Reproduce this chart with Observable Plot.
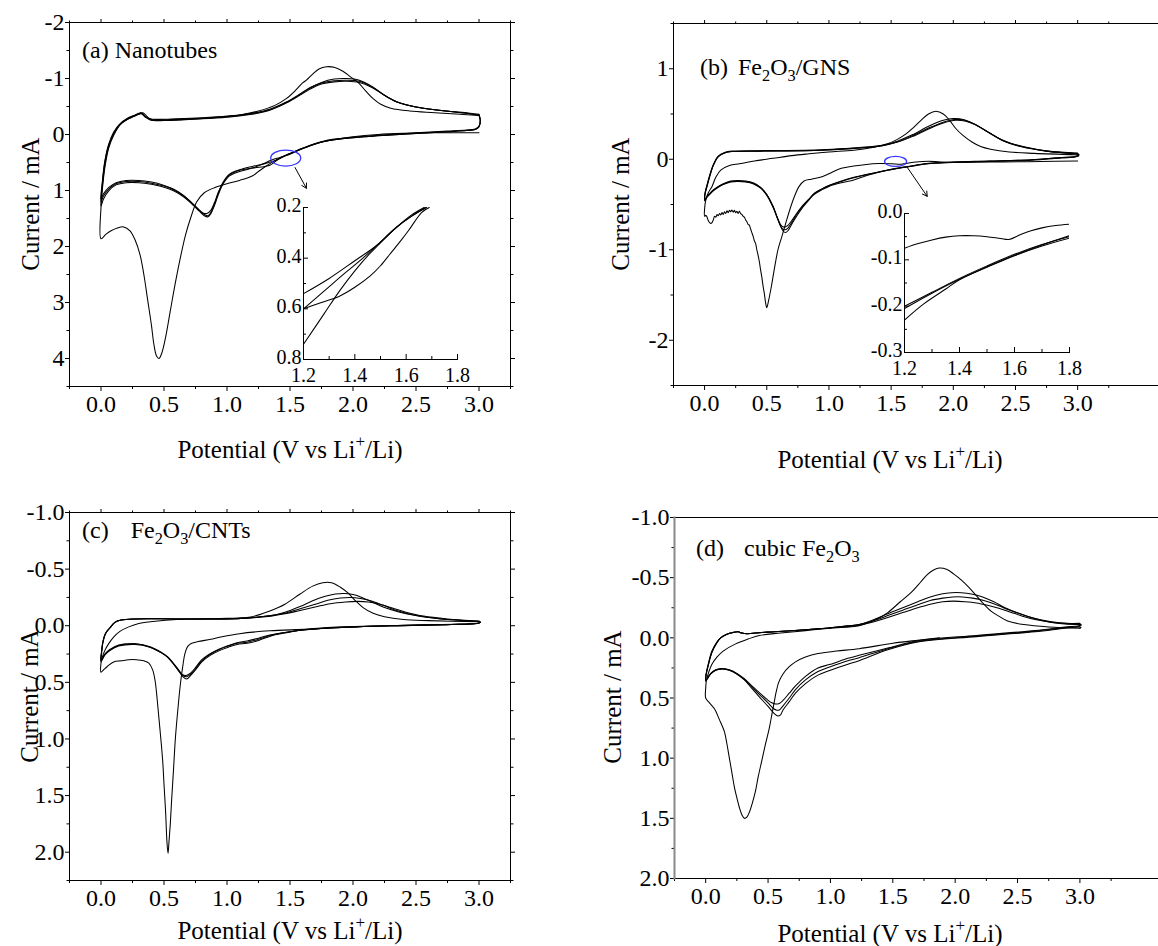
<!DOCTYPE html>
<html><head><meta charset="utf-8">
<script src="https://cdn.jsdelivr.net/npm/d3@7"></script>
<script src="https://cdn.jsdelivr.net/npm/@observablehq/plot@0.6"></script>
<style>
body{margin:0;background:#fff;}
#fig{position:relative;width:1158px;height:946px;overflow:hidden;background:#fff;font-family:"Liberation Serif","Times New Roman",serif;color:#000;}
#fig svg text{font-family:"Liberation Serif","Times New Roman",serif !important;fill:#000;}
#fig svg.mainp text{font-size:24px;}
#fig svg.insetp text{font-size:20px;}
.t{position:absolute;white-space:nowrap;line-height:1;}
.cc{transform:translate(-50%,-50%);}
.rot{transform:translate(-50%,-50%) rotate(-90deg);}
.lv{transform:translate(0,-50%);}
sub{font-size:68%;vertical-align:-0.38em;line-height:0;}
sup{font-size:68%;vertical-align:0.6em;line-height:0;}
</style></head><body><div id="fig"></div>
<script>
// ================= DATA (V vs Li+/Li, current mA) =================
// Panel (a) Nanotubes
const aCycle1 = [[3.00,-0.03],[2.80,-0.03],[2.60,-0.03],[2.40,-0.02],[2.20,0.00],[2.00,0.04],[1.85,0.09],[1.72,0.15],[1.62,0.23],[1.55,0.29],[1.49,0.35],[1.43,0.41],[1.37,0.48],[1.30,0.58],[1.25,0.66],[1.20,0.74],[1.10,0.82],[1.00,0.88],[0.90,0.95],[0.82,1.04],[0.76,1.20],[0.71,1.50],[0.67,1.80],[0.63,2.20],[0.59,2.65],[0.55,3.15],[0.51,3.65],[0.48,3.92],[0.46,4.00],[0.44,3.95],[0.42,3.75],[0.40,3.40],[0.37,2.95],[0.34,2.50],[0.31,2.15],[0.27,1.88],[0.23,1.72],[0.18,1.65],[0.13,1.67],[0.08,1.72],[0.04,1.78],[0.00,1.86],
 [0.00,1.30],[0.01,1.00],[0.03,0.60],[0.06,0.25],[0.10,0.02],[0.15,-0.17],[0.21,-0.28],[0.27,-0.34],[0.31,-0.37],[0.33,-0.39],[0.35,-0.36],[0.38,-0.29],[0.42,-0.25],[0.50,-0.25],[0.70,-0.27],[0.90,-0.30],[1.10,-0.35],[1.25,-0.42],[1.38,-0.52],[1.47,-0.64],[1.54,-0.78],[1.60,-0.92],[1.63,-0.97],[1.68,-1.08],[1.73,-1.17],[1.79,-1.21],[1.85,-1.20],[1.92,-1.13],[1.98,-1.03],[2.04,-0.93],[2.10,-0.78],[2.16,-0.64],[2.22,-0.54],[2.30,-0.47],[2.45,-0.42],[2.65,-0.39],[2.85,-0.36],[3.00,-0.34]];
const aCycle2 = [[3.00,-0.34],[3.01,-0.25],[3.00,-0.14],[2.97,-0.09],[2.90,-0.07],[2.75,-0.05],[2.50,-0.02],[2.30,0.01],[2.10,0.04],[1.90,0.08],[1.78,0.12],[1.66,0.20],[1.57,0.28],[1.49,0.35],[1.40,0.45],[1.30,0.52],[1.20,0.57],[1.10,0.63],[1.02,0.71],[0.97,0.85],[0.93,1.05],[0.90,1.25],[0.87,1.40],[0.85,1.45],[0.82,1.43],[0.78,1.35],[0.73,1.24],[0.66,1.10],[0.58,0.99],[0.50,0.92],[0.40,0.87],[0.30,0.84],[0.20,0.84],[0.12,0.88],[0.06,0.98],[0.02,1.10],[0.00,1.20],
 [0.01,0.90],[0.03,0.50],[0.06,0.20],[0.10,-0.02],[0.15,-0.18],[0.21,-0.27],[0.26,-0.33],[0.30,-0.37],[0.32,-0.38],[0.35,-0.32],[0.39,-0.27],[0.45,-0.26],[0.60,-0.27],[0.80,-0.29],[1.00,-0.32],[1.20,-0.37],[1.35,-0.45],[1.47,-0.57],[1.57,-0.70],[1.66,-0.83],[1.75,-0.93],[1.85,-0.99],[1.95,-1.00],[2.05,-0.97],[2.15,-0.86],[2.25,-0.70],[2.35,-0.58],[2.50,-0.49],[2.70,-0.43],[2.90,-0.39],[3.00,-0.36]];
const aCycle3 = [[3.00,-0.36],[3.01,-0.26],[3.00,-0.15],[2.97,-0.10],[2.90,-0.08],[2.75,-0.06],[2.50,-0.03],[2.30,0.00],[2.10,0.03],[1.90,0.07],[1.78,0.11],[1.66,0.19],[1.57,0.27],[1.49,0.35],[1.42,0.42],[1.34,0.55],[1.27,0.58],[1.20,0.60],[1.10,0.64],[1.02,0.72],[0.97,0.86],[0.93,1.04],[0.90,1.22],[0.87,1.36],[0.84,1.41],[0.81,1.40],[0.77,1.33],[0.72,1.22],[0.65,1.08],[0.57,0.97],[0.49,0.90],[0.40,0.85],[0.30,0.82],[0.20,0.82],[0.12,0.86],[0.06,0.95],[0.02,1.06],[0.00,1.15],
 [0.01,0.85],[0.03,0.48],[0.06,0.18],[0.10,-0.04],[0.15,-0.19],[0.21,-0.29],[0.26,-0.34],[0.30,-0.38],[0.32,-0.39],[0.35,-0.33],[0.39,-0.28],[0.45,-0.27],[0.60,-0.28],[0.80,-0.30],[1.00,-0.33],[1.20,-0.38],[1.35,-0.46],[1.47,-0.58],[1.57,-0.71],[1.66,-0.84],[1.75,-0.92],[1.85,-0.96],[1.95,-0.97],[2.05,-0.95],[2.15,-0.85],[2.25,-0.70],[2.35,-0.58],[2.50,-0.49],[2.70,-0.43],[2.90,-0.38],[3.00,-0.35]];
const aCycle4 = [[3.00,-0.35],[3.01,-0.25],[3.00,-0.14],[2.97,-0.09],[2.90,-0.07],[2.75,-0.05],[2.50,-0.02],[2.30,0.01],[2.10,0.04],[1.90,0.08],[1.78,0.12],[1.66,0.20],[1.57,0.28],[1.49,0.36],[1.42,0.41],[1.35,0.46],[1.28,0.53],[1.20,0.60],[1.10,0.66],[1.02,0.74],[0.97,0.88],[0.93,1.08],[0.90,1.27],[0.87,1.42],[0.85,1.47],[0.82,1.45],[0.78,1.37],[0.73,1.26],[0.66,1.12],[0.58,1.01],[0.50,0.94],[0.40,0.89],[0.30,0.86],[0.20,0.86],[0.12,0.90],[0.06,1.01],[0.02,1.15],[0.00,1.28],
 [0.01,0.95],[0.03,0.55],[0.06,0.22],[0.10,0.00],[0.15,-0.17],[0.21,-0.27],[0.26,-0.32],[0.30,-0.36],[0.32,-0.37],[0.35,-0.31],[0.39,-0.26],[0.45,-0.25],[0.60,-0.26],[0.80,-0.28],[1.00,-0.31],[1.20,-0.36],[1.35,-0.44],[1.47,-0.56],[1.57,-0.69],[1.66,-0.81],[1.75,-0.90],[1.85,-0.94],[1.95,-0.95],[2.05,-0.93],[2.15,-0.84],[2.25,-0.70],[2.35,-0.58],[2.50,-0.49],[2.70,-0.43],[2.90,-0.38],[3.00,-0.34]];
// inset (a): 1.2–1.8 V
const aInset1 = [[1.20,0.54],[1.30,0.48],[1.40,0.41],[1.485,0.35],[1.56,0.28],[1.62,0.235],[1.675,0.20]];
const aInset2 = [[1.20,0.60],[1.28,0.53],[1.36,0.46],[1.42,0.41],[1.485,0.35],[1.56,0.28],[1.62,0.235],[1.68,0.20]];
const aInset3 = [[1.20,0.60],[1.27,0.575],[1.34,0.55],[1.40,0.515],[1.46,0.47],[1.50,0.43],[1.54,0.38],[1.58,0.33],[1.61,0.29],[1.66,0.22],[1.69,0.20]];
const aInset4 = [[1.20,0.74],[1.28,0.62],[1.34,0.53],[1.40,0.45],[1.46,0.38],[1.49,0.35],[1.56,0.28],[1.62,0.23],[1.67,0.20]];
const aMarker = [1.47, 0.43];
const aArrow = [[1.54, 0.59], [1.63, 0.96]];

// Panel (b) Fe2O3/GNS
const bCycle1 = [[3.00,-0.02],[2.70,-0.025],[2.40,-0.03],[2.10,-0.033],[1.90,-0.03],[1.80,-0.023],[1.70,-0.031],[1.62,-0.046],[1.58,-0.056],[1.50,-0.05],[1.40,-0.048],[1.30,-0.057],[1.20,-0.075],[1.10,-0.10],[1.00,-0.16],[0.93,-0.20],[0.86,-0.22],[0.80,-0.24],[0.76,-0.30],[0.72,-0.42],[0.68,-0.58],[0.65,-0.72],[0.62,-0.86],[0.59,-1.00],[0.56,-1.22],[0.535,-1.42],[0.515,-1.56],[0.50,-1.64],[0.49,-1.58],[0.48,-1.48],[0.47,-1.40],[0.46,-1.30],[0.45,-1.22],[0.44,-1.13],[0.43,-1.06],[0.42,-1.00],[0.41,-0.93],[0.40,-0.90],[0.39,-0.85],[0.38,-0.81],[0.37,-0.77],[0.36,-0.73],[0.35,-0.72],[0.34,-0.69],[0.33,-0.67],[0.32,-0.64],[0.31,-0.63],[0.30,-0.61],[0.29,-0.60],[0.28,-0.575],[0.27,-0.60],[0.26,-0.575],[0.25,-0.59],[0.24,-0.565],[0.23,-0.585],[0.22,-0.56],[0.21,-0.58],[0.20,-0.565],[0.19,-0.59],[0.18,-0.57],[0.17,-0.60],[0.16,-0.58],[0.15,-0.61],[0.14,-0.59],[0.13,-0.615],[0.12,-0.60],[0.11,-0.625],[0.10,-0.61],[0.09,-0.64],[0.08,-0.63],[0.07,-0.67],[0.06,-0.70],[0.05,-0.71],[0.04,-0.70],[0.03,-0.68],[0.02,-0.64],[0.01,-0.62],[0.00,-0.63],
 [0.00,-0.55],[0.01,-0.45],[0.03,-0.37],[0.06,-0.30],[0.09,-0.20],[0.13,-0.12],[0.20,-0.07],[0.28,-0.05],[0.40,-0.02],[0.55,0.01],[0.70,0.04],[0.84,0.06],[1.00,0.08],[1.20,0.10],[1.35,0.13],[1.47,0.17],[1.55,0.22],[1.62,0.28],[1.68,0.35],[1.74,0.43],[1.80,0.50],[1.86,0.53],[1.92,0.50],[1.97,0.43],[2.02,0.34],[2.08,0.26],[2.15,0.19],[2.22,0.14],[2.30,0.11],[2.45,0.08],[2.65,0.065],[3.00,0.05]];
const bCycle2 = [[3.00,0.05],[3.01,0.04],[2.98,0.025],[2.87,0.015],[2.63,-0.01],[2.30,-0.025],[2.00,-0.035],[1.80,-0.045],[1.70,-0.065],[1.60,-0.086],[1.50,-0.11],[1.40,-0.14],[1.30,-0.17],[1.20,-0.20],[1.10,-0.24],[1.00,-0.29],[0.94,-0.33],[0.88,-0.38],[0.84,-0.45],[0.79,-0.53],[0.74,-0.63],[0.70,-0.72],[0.67,-0.79],[0.65,-0.81],[0.63,-0.79],[0.60,-0.70],[0.55,-0.53],[0.50,-0.40],[0.45,-0.32],[0.39,-0.27],[0.33,-0.25],[0.27,-0.245],[0.21,-0.25],[0.15,-0.28],[0.11,-0.31],[0.07,-0.35],[0.04,-0.39],[0.02,-0.42],[0.00,-0.46],
 [0.005,-0.38],[0.02,-0.30],[0.04,-0.20],[0.07,-0.07],[0.11,0.03],[0.16,0.07],[0.22,0.085],[0.45,0.09],[0.94,0.10],[1.20,0.12],[1.43,0.15],[1.55,0.20],[1.67,0.27],[1.81,0.37],[1.92,0.43],[2.00,0.45],[2.08,0.44],[2.15,0.40],[2.27,0.31],[2.39,0.21],[2.54,0.14],[2.75,0.09],[3.00,0.06]];
const bCycle3 = [[3.00,0.06],[3.01,0.05],[2.98,0.03],[2.87,0.02],[2.63,-0.005],[2.30,-0.02],[2.00,-0.033],[1.80,-0.048],[1.70,-0.068],[1.60,-0.089],[1.50,-0.113],[1.40,-0.142],[1.30,-0.172],[1.20,-0.205],[1.10,-0.245],[1.00,-0.29],[0.94,-0.33],[0.88,-0.38],[0.84,-0.44],[0.79,-0.52],[0.74,-0.61],[0.70,-0.70],[0.67,-0.76],[0.645,-0.78],[0.62,-0.76],[0.59,-0.67],[0.55,-0.52],[0.50,-0.39],[0.45,-0.31],[0.39,-0.265],[0.33,-0.245],[0.27,-0.24],[0.21,-0.245],[0.15,-0.275],[0.11,-0.305],[0.07,-0.345],[0.04,-0.385],[0.02,-0.41],[0.00,-0.45],
 [0.005,-0.37],[0.02,-0.29],[0.04,-0.19],[0.07,-0.065],[0.11,0.03],[0.16,0.07],[0.22,0.085],[0.45,0.09],[0.94,0.10],[1.20,0.12],[1.43,0.15],[1.55,0.19],[1.67,0.26],[1.81,0.35],[1.92,0.41],[2.01,0.44],[2.09,0.43],[2.17,0.39],[2.28,0.30],[2.40,0.21],[2.55,0.14],[2.75,0.09],[3.00,0.06]];
const bCycle4 = [[3.00,0.06],[3.01,0.05],[2.98,0.03],[2.87,0.02],[2.63,-0.005],[2.30,-0.02],[2.00,-0.03],[1.80,-0.05],[1.70,-0.068],[1.60,-0.09],[1.50,-0.115],[1.40,-0.143],[1.35,-0.163],[1.27,-0.195],[1.20,-0.23],[1.10,-0.26],[1.00,-0.30],[0.94,-0.34],[0.88,-0.39],[0.84,-0.44],[0.79,-0.51],[0.74,-0.60],[0.70,-0.68],[0.67,-0.73],[0.64,-0.75],[0.615,-0.73],[0.59,-0.66],[0.55,-0.52],[0.50,-0.39],[0.45,-0.31],[0.39,-0.26],[0.33,-0.24],[0.27,-0.235],[0.21,-0.24],[0.15,-0.27],[0.11,-0.30],[0.07,-0.34],[0.04,-0.38],[0.02,-0.41],[0.00,-0.44],
 [0.005,-0.36],[0.02,-0.28],[0.04,-0.18],[0.07,-0.06],[0.11,0.035],[0.16,0.075],[0.22,0.09],[0.45,0.095],[0.94,0.105],[1.20,0.125],[1.43,0.155],[1.55,0.19],[1.67,0.25],[1.81,0.34],[1.92,0.40],[2.02,0.43],[2.10,0.42],[2.18,0.38],[2.29,0.29],[2.41,0.20],[2.56,0.14],[2.76,0.09],[3.00,0.07]];
// inset (b): 1.2–1.8 V
const bInset1 = [[1.20,-0.075],[1.25,-0.065],[1.30,-0.057],[1.35,-0.051],[1.40,-0.048],[1.45,-0.048],[1.50,-0.05],[1.55,-0.054],[1.58,-0.056],[1.62,-0.046],[1.66,-0.037],[1.70,-0.031],[1.75,-0.026],[1.80,-0.023]];
const bInset2 = [[1.20,-0.20],[1.30,-0.17],[1.40,-0.14],[1.50,-0.113],[1.60,-0.088],[1.70,-0.067],[1.80,-0.05]];
const bInset3 = [[1.20,-0.205],[1.30,-0.172],[1.40,-0.142],[1.50,-0.116],[1.60,-0.091],[1.70,-0.07],[1.80,-0.053]];
const bInset4 = [[1.20,-0.23],[1.27,-0.195],[1.35,-0.163],[1.40,-0.143],[1.50,-0.115],[1.60,-0.09],[1.70,-0.068],[1.80,-0.048]];
const bMarker = [1.54, -0.03];
const bArrow = [[1.63, -0.09], [1.79, -0.41]];

// Panel (c) Fe2O3/CNTs
const cCycle1 = [[3.00,-0.02],[2.70,-0.01],[2.30,0.00],[1.90,0.01],[1.64,0.03],[1.34,0.045],[1.10,0.07],[0.95,0.10],[0.87,0.12],[0.77,0.14],[0.72,0.155],[0.69,0.18],[0.665,0.25],[0.65,0.35],[0.635,0.47],[0.62,0.62],[0.605,0.80],[0.59,1.00],[0.575,1.28],[0.56,1.55],[0.55,1.75],[0.54,1.90],[0.532,2.01],[0.523,1.90],[0.513,1.65],[0.50,1.40],[0.49,1.20],[0.475,1.00],[0.46,0.82],[0.445,0.64],[0.43,0.49],[0.41,0.39],[0.38,0.33],[0.34,0.31],[0.28,0.30],[0.22,0.30],[0.16,0.31],[0.10,0.32],[0.05,0.36],[0.02,0.39],[0.00,0.41],
 [0.00,0.33],[0.01,0.28],[0.03,0.22],[0.06,0.16],[0.10,0.10],[0.15,0.05],[0.22,0.01],[0.30,-0.02],[0.43,-0.04],[0.60,-0.055],[0.80,-0.06],[1.00,-0.065],[1.20,-0.08],[1.34,-0.13],[1.46,-0.19],[1.58,-0.28],[1.68,-0.35],[1.76,-0.38],[1.83,-0.38],[1.90,-0.34],[1.96,-0.29],[2.02,-0.22],[2.08,-0.16],[2.16,-0.11],[2.25,-0.08],[2.40,-0.055],[2.60,-0.045],[3.00,-0.035]];
const cCycle2 = [[3.00,-0.04],[3.01,-0.03],[2.98,-0.02],[2.78,-0.01],[2.30,0.00],[1.82,0.02],[1.58,0.04],[1.46,0.065],[1.35,0.09],[1.25,0.13],[1.16,0.155],[1.08,0.165],[1.01,0.19],[0.94,0.22],[0.87,0.26],[0.80,0.32],[0.75,0.39],[0.71,0.44],[0.68,0.47],[0.65,0.45],[0.61,0.39],[0.57,0.33],[0.53,0.28],[0.48,0.24],[0.39,0.19],[0.27,0.165],[0.14,0.18],[0.07,0.22],[0.03,0.26],[0.00,0.32],
 [0.005,0.24],[0.015,0.15],[0.035,0.07],[0.07,0.02],[0.11,-0.03],[0.16,-0.05],[0.27,-0.06],[0.63,-0.06],[1.11,-0.065],[1.35,-0.09],[1.46,-0.12],[1.58,-0.17],[1.68,-0.22],[1.78,-0.26],[1.86,-0.28],[1.93,-0.285],[2.00,-0.275],[2.07,-0.25],[2.15,-0.21],[2.25,-0.16],[2.37,-0.12],[2.50,-0.09],[2.70,-0.06],[3.00,-0.04]];
const cCycle3 = [[3.00,-0.04],[3.01,-0.03],[2.98,-0.02],[2.78,-0.01],[2.30,0.00],[1.82,0.02],[1.58,0.04],[1.46,0.06],[1.35,0.085],[1.25,0.12],[1.16,0.145],[1.08,0.155],[1.01,0.18],[0.94,0.21],[0.87,0.25],[0.80,0.31],[0.75,0.38],[0.71,0.43],[0.68,0.45],[0.65,0.44],[0.61,0.385],[0.57,0.33],[0.53,0.28],[0.48,0.24],[0.39,0.19],[0.27,0.16],[0.14,0.175],[0.07,0.215],[0.03,0.255],[0.00,0.31],
 [0.005,0.23],[0.015,0.145],[0.035,0.07],[0.07,0.02],[0.11,-0.03],[0.16,-0.05],[0.27,-0.06],[0.63,-0.06],[1.11,-0.065],[1.35,-0.09],[1.46,-0.11],[1.58,-0.15],[1.70,-0.19],[1.80,-0.225],[1.90,-0.245],[1.98,-0.25],[2.06,-0.24],[2.14,-0.22],[2.24,-0.18],[2.36,-0.13],[2.50,-0.09],[2.70,-0.06],[3.00,-0.04]];
const cCycle4 = [[3.00,-0.04],[3.01,-0.03],[2.98,-0.02],[2.78,-0.01],[2.30,0.00],[1.82,0.02],[1.58,0.04],[1.46,0.06],[1.35,0.08],[1.25,0.11],[1.16,0.135],[1.08,0.15],[1.01,0.175],[0.94,0.205],[0.87,0.245],[0.80,0.30],[0.75,0.37],[0.71,0.42],[0.675,0.44],[0.645,0.43],[0.61,0.38],[0.57,0.325],[0.53,0.275],[0.48,0.235],[0.39,0.185],[0.27,0.16],[0.14,0.17],[0.07,0.21],[0.03,0.25],[0.00,0.30],
 [0.005,0.22],[0.015,0.14],[0.035,0.07],[0.07,0.02],[0.11,-0.03],[0.16,-0.05],[0.27,-0.06],[0.63,-0.06],[1.11,-0.065],[1.35,-0.085],[1.46,-0.105],[1.58,-0.135],[1.70,-0.165],[1.82,-0.195],[1.94,-0.21],[2.04,-0.215],[2.12,-0.21],[2.20,-0.195],[2.30,-0.16],[2.42,-0.12],[2.56,-0.085],[2.75,-0.06],[3.00,-0.04]];

// Panel (d) cubic Fe2O3
const dCycle1 = [[1.875,0.00],[1.70,0.02],[1.50,0.045],[1.23,0.09],[1.05,0.11],[0.90,0.13],[0.80,0.16],[0.72,0.20],[0.67,0.24],[0.62,0.30],[0.585,0.37],[0.565,0.45],[0.55,0.53],[0.53,0.64],[0.51,0.75],[0.48,0.88],[0.45,1.02],[0.42,1.16],[0.40,1.27],[0.375,1.37],[0.35,1.45],[0.33,1.49],[0.31,1.50],[0.29,1.47],[0.27,1.41],[0.25,1.33],[0.23,1.24],[0.21,1.12],[0.19,1.00],[0.17,0.88],[0.15,0.78],[0.11,0.68],[0.07,0.59],[0.03,0.54],[0.00,0.50],
 [0.00,0.42],[0.005,0.36],[0.02,0.30],[0.05,0.22],[0.09,0.16],[0.14,0.11],[0.24,0.05],[0.34,0.01],[0.43,-0.02],[0.60,-0.04],[0.80,-0.06],[1.00,-0.08],[1.23,-0.10],[1.36,-0.15],[1.46,-0.21],[1.56,-0.30],[1.65,-0.38],[1.72,-0.46],[1.77,-0.52],[1.82,-0.56],[1.87,-0.58],[1.93,-0.57],[1.99,-0.53],[2.05,-0.48],[2.11,-0.42],[2.17,-0.35],[2.23,-0.28],[2.29,-0.22],[2.35,-0.18],[2.42,-0.14],[2.55,-0.11],[2.75,-0.09],[3.00,-0.08]];
const dCycle2 = [[3.00,-0.08],[3.01,-0.085],[2.99,-0.09],[2.88,-0.08],[2.64,-0.05],[2.17,-0.01],[1.70,0.035],[1.46,0.10],[1.23,0.19],[1.14,0.22],[1.00,0.27],[0.90,0.31],[0.80,0.38],[0.72,0.46],[0.67,0.53],[0.62,0.60],[0.60,0.64],[0.58,0.65],[0.55,0.63],[0.50,0.57],[0.43,0.49],[0.37,0.42],[0.31,0.35],[0.25,0.30],[0.19,0.27],[0.12,0.26],[0.08,0.27],[0.04,0.30],[0.00,0.36],
 [0.005,0.30],[0.02,0.23],[0.05,0.12],[0.09,0.04],[0.12,0.00],[0.17,-0.03],[0.22,-0.045],[0.26,-0.05],[0.29,-0.04],[0.33,-0.035],[0.45,-0.045],[0.55,-0.05],[0.90,-0.075],[1.14,-0.10],[1.23,-0.11],[1.37,-0.16],[1.46,-0.20],[1.58,-0.25],[1.70,-0.30],[1.80,-0.34],[1.89,-0.365],[1.97,-0.375],[2.05,-0.375],[2.13,-0.365],[2.22,-0.34],[2.31,-0.30],[2.40,-0.25],[2.52,-0.20],[2.64,-0.16],[2.76,-0.13],[2.88,-0.115],[3.00,-0.11]];
const dCycle3 = [[3.00,-0.11],[3.01,-0.105],[2.99,-0.095],[2.88,-0.085],[2.64,-0.055],[2.17,-0.015],[1.70,0.03],[1.46,0.09],[1.23,0.165],[1.14,0.19],[1.00,0.24],[0.90,0.28],[0.80,0.35],[0.72,0.43],[0.67,0.50],[0.62,0.565],[0.59,0.60],[0.565,0.60],[0.54,0.585],[0.50,0.54],[0.43,0.47],[0.37,0.41],[0.31,0.345],[0.25,0.30],[0.19,0.27],[0.12,0.26],[0.08,0.27],[0.04,0.30],[0.00,0.355],
 [0.005,0.30],[0.02,0.23],[0.05,0.12],[0.09,0.04],[0.12,0.00],[0.17,-0.03],[0.22,-0.045],[0.26,-0.05],[0.29,-0.04],[0.33,-0.035],[0.45,-0.045],[0.55,-0.05],[0.90,-0.075],[1.14,-0.10],[1.23,-0.11],[1.37,-0.15],[1.46,-0.185],[1.58,-0.23],[1.70,-0.275],[1.80,-0.31],[1.90,-0.33],[1.98,-0.34],[2.06,-0.34],[2.14,-0.33],[2.23,-0.31],[2.32,-0.28],[2.41,-0.24],[2.52,-0.20],[2.64,-0.16],[2.76,-0.135],[2.88,-0.12],[3.00,-0.115]];
const dCycle4 = [[3.00,-0.115],[3.01,-0.11],[2.99,-0.10],[2.88,-0.09],[2.64,-0.06],[2.17,-0.02],[1.70,0.025],[1.46,0.085],[1.23,0.145],[1.14,0.17],[1.00,0.22],[0.90,0.25],[0.80,0.32],[0.72,0.40],[0.67,0.46],[0.62,0.52],[0.59,0.545],[0.56,0.55],[0.53,0.54],[0.49,0.51],[0.43,0.455],[0.37,0.40],[0.31,0.34],[0.25,0.295],[0.19,0.265],[0.12,0.255],[0.08,0.265],[0.04,0.295],[0.00,0.35],
 [0.005,0.29],[0.02,0.22],[0.05,0.11],[0.09,0.035],[0.12,0.00],[0.17,-0.03],[0.22,-0.045],[0.26,-0.05],[0.29,-0.04],[0.33,-0.035],[0.45,-0.045],[0.55,-0.05],[0.90,-0.075],[1.14,-0.095],[1.23,-0.105],[1.37,-0.14],[1.46,-0.17],[1.58,-0.21],[1.70,-0.25],[1.80,-0.28],[1.90,-0.30],[1.99,-0.305],[2.08,-0.30],[2.17,-0.29],[2.26,-0.27],[2.35,-0.245],[2.44,-0.215],[2.54,-0.18],[2.65,-0.15],[2.77,-0.13],[2.89,-0.12],[3.00,-0.12]];

// tick values
const xMajor = [0, 0.5, 1, 1.5, 2, 2.5, 3];
const xMinor = [-0.25, 0.25, 0.75, 1.25, 1.75, 2.25, 2.75, 3.25];
const aYMajor = [-2, -1, 0, 1, 2, 3, 4], aYMinor = [-1.5, -0.5, 0.5, 1.5, 2.5, 3.5, 4.5];
const bYMajor = [-2, -1, 0, 1], bYMinor = [-2.5, -1.5, -0.5, 0.5, 1.5];
const cdYMajor = [-1, -0.5, 0, 0.5, 1, 1.5, 2], cdYMinor = [-0.75, -0.25, 0.25, 0.75, 1.25, 1.75, 2.25];
const inXMajor = [1.2, 1.4, 1.6, 1.8], inXMinor = [1.3, 1.5, 1.7];
const aInYMajor = [0.2, 0.4, 0.6, 0.8], aInYMinor = [0.3, 0.5, 0.7];
const bInYMajor = [0, -0.1, -0.2, -0.3], bInYMinor = [-0.05, -0.15, -0.25];

// ================= RENDERING =================
const fig = document.getElementById("fig");
const FONT = '"Liberation Serif","Times New Roman",serif';
const blank = () => "";
const f1 = d => d.toFixed(1);
const f0 = d => String(d);

function rowsOf(series) {
  const rows = [];
  series.forEach((s, k) => s.forEach(([V, I]) => rows.push({V, I, cyc: k})));
  return rows;
}

function place(svg, left, top, cls) {
  svg.classList.add(cls);
  svg.style.position = "absolute";
  svg.style.left = left + "px";
  svg.style.top = top + "px";
  svg.style.maxWidth = "none";
  fig.appendChild(svg);
}

function mainPanel(cfg) {
  const ml = 70, mr = 14, mt = 14, mb = 44;
  const [x0, y0, x1, y1] = cfg.frame;
  const width = x1 - x0 + ml + mr, height = y1 - y0 + mt + mb;
  const open = cfg.openRight;
  const marks = [
    Plot.line(rowsOf(cfg.series), {x: "V", y: "I", z: "cyc", stroke: "#000", strokeWidth: 1.05, curve: "catmull-rom"}),
    Plot.axisX({anchor: "bottom", ticks: xMajor, tickSize: 5, tickPadding: 3, tickFormat: f1, fontSize: 24, fontFamily: FONT, label: null}),
    Plot.axisX({anchor: "bottom", ticks: xMinor, tickSize: 3, tickFormat: blank, label: null}),
    Plot.axisY({anchor: "left", ticks: cfg.yMajor, tickSize: 4, tickPadding: 1, tickFormat: cfg.yFmt, fontSize: 24, fontFamily: FONT, label: null}),
    Plot.axisY({anchor: "left", ticks: cfg.yMinor, tickSize: 2.5, tickFormat: blank, label: null})
  ];
  if (open) {
    marks.push(Plot.frame({anchor: "top", stroke: "#000"}), Plot.frame({anchor: "bottom", stroke: "#000"}), Plot.frame({anchor: "left", stroke: cfg.leftGray ? "#8a8a8a" : "#000", strokeWidth: cfg.leftGray ? 2 : 1}));
  } else {
    marks.push(Plot.frame({stroke: "#000", strokeWidth: 1}));
    marks.push(Plot.axisY({anchor: "right", ticks: cfg.yMajor, tickSize: 4, tickFormat: blank, label: null}));
    marks.push(Plot.axisY({anchor: "right", ticks: cfg.yMinor, tickSize: 2.5, tickFormat: blank, label: null}));
  }
  if (cfg.topTicks !== false) {
    marks.push(Plot.axisX({anchor: "top", ticks: xMajor, tickSize: 4, tickFormat: blank, label: null}));
    marks.push(Plot.axisX({anchor: "top", ticks: xMinor, tickSize: 2.5, tickFormat: blank, label: null}));
  }
  if (cfg.arrow) {
    const [[ax1, ay1], [ax2, ay2]] = cfg.arrow;
    marks.push(Plot.arrow([{ax1, ay1, ax2, ay2}], {x1: "ax1", y1: "ay1", x2: "ax2", y2: "ay2", stroke: "#000", strokeWidth: 1, headLength: 8}));
  }
  const svg = Plot.plot({
    width, height, marginLeft: ml, marginRight: mr, marginTop: mt, marginBottom: mb,
    style: {fontFamily: FONT, color: "#000", background: "transparent", overflow: "visible"},
    x: {domain: cfg.xDomain},
    y: {domain: cfg.yDomain, reverse: !!cfg.yReverse},
    marks
  });
  if (cfg.marker) {
    const sx = svg.scale("x"), sy = svg.scale("y");
    d3.select(svg).append("ellipse")
      .attr("cx", sx.apply(cfg.marker[0])).attr("cy", sy.apply(cfg.marker[1]))
      .attr("rx", cfg.markerR[0]).attr("ry", cfg.markerR[1])
      .attr("fill", "none").attr("stroke", "#3636ff").attr("stroke-width", 1.3);
  }
  place(svg, x0 - ml, y0 - mt, "mainp");
  return svg;
}

function insetPanel(cfg) {
  const ml = 52, mr = 8, mt = 12, mb = 34;
  const [x0, y0, x1, y1] = cfg.frame;
  const w = x1 - x0, h = y1 - y0;
  const svg = Plot.plot({
    width: w + ml + mr, height: h + mt + mb, marginLeft: ml, marginRight: mr, marginTop: mt, marginBottom: mb,
    style: {fontFamily: FONT, color: "#000", background: "transparent", overflow: "visible"},
    x: {domain: [1.2, 1.8]},
    y: {domain: cfg.yDomain, reverse: !!cfg.yReverse},
    marks: [
      Plot.line(rowsOf(cfg.series), {x: "V", y: "I", z: "cyc", stroke: "#000", strokeWidth: 1.05, curve: "catmull-rom", clip: true}),
      Plot.tickX(inXMajor, {x: d => d, insetTop: h - 5, stroke: "#000"}),
      Plot.tickX(inXMinor, {x: d => d, insetTop: h - 3, stroke: "#000"}),
      Plot.tickY(cfg.yMajor, {y: d => d, insetRight: w - 5, stroke: "#000"}),
      Plot.tickY(cfg.yMinor, {y: d => d, insetRight: w - 3, stroke: "#000"}),
      Plot.frame({anchor: "bottom", stroke: "#000"}),
      Plot.frame({anchor: "left", stroke: "#000"}),
      Plot.axisX({anchor: "bottom", ticks: inXMajor, tickSize: 0, tickPadding: 8, tickFormat: f1, fontSize: 20, fontFamily: FONT, label: null}),
      Plot.axisY({anchor: "left", ticks: cfg.yMajor, tickSize: 0, tickPadding: 2, tickFormat: f1, fontSize: 20, fontFamily: FONT, label: null, dy: -2})
    ]
  });
  place(svg, x0 - ml, y0 - mt, "insetp");
  return svg;
}

function text(html, x, y, fs, cls) {
  const d = document.createElement("div");
  d.className = "t " + cls;
  d.style.left = x + "px";
  d.style.top = y + "px";
  d.style.fontSize = fs + "px";
  d.innerHTML = html;
  fig.appendChild(d);
}

try {
  mainPanel({frame: [69, 22, 510, 386], xDomain: [-0.25, 3.25], yDomain: [-2, 4.5], yReverse: true, yMajor: aYMajor, yMinor: aYMinor, yFmt: f0,
    series: [aCycle1, aCycle2, aCycle3, aCycle4], marker: aMarker, markerR: [15, 8], arrow: aArrow});
  mainPanel({frame: [673, 23, 1158, 385], xDomain: [-0.25, 3.65], yDomain: [-2.5, 1.5], yMajor: bYMajor, yMinor: bYMinor, yFmt: f0, openRight: true,
    series: [bCycle1, bCycle2, bCycle3, bCycle4], marker: bMarker, markerR: [11, 5], arrow: bArrow});
  mainPanel({frame: [69, 512, 510, 880], xDomain: [-0.25, 3.25], yDomain: [-1, 2.25], yReverse: true, yMajor: cdYMajor, yMinor: cdYMinor, yFmt: f1,
    series: [cCycle1, cCycle2, cCycle3, cCycle4]});
  mainPanel({frame: [674, 517, 1158, 878], xDomain: [-0.25, 3.63], yDomain: [-1, 2], yReverse: true, yMajor: cdYMajor, yMinor: cdYMinor.filter(v => v < 2), yFmt: f1, openRight: true,
    series: [dCycle1, dCycle2, dCycle3, dCycle4], topTicks: false, leftGray: true});
  insetPanel({frame: [303, 207, 457, 359], yDomain: [0.2, 0.8], yReverse: true, yMajor: aInYMajor, yMinor: aInYMinor,
    series: [aInset1, aInset2, aInset3, aInset4]});
  insetPanel({frame: [904, 213, 1069, 352], yDomain: [-0.3, 0], yMajor: bInYMajor, yMinor: bInYMinor,
    series: [bInset1, bInset2, bInset3, bInset4]});

  const potential = 'Potential (V vs Li<sup>+</sup>/Li)';
  const current = 'Current / mA';
  text(current, 30, 204, 25, "rot");
  text(current, 620, 204, 25, "rot");
  text(current, 29, 696, 25, "rot");
  text(current, 612, 697, 25, "rot");
  text(potential, 290, 449, 25, "cc");
  text(potential, 890, 459, 25, "cc");
  text(potential, 290, 930, 25, "cc");
  text(potential, 890, 933, 25, "cc");
  text('(a) Nanotubes', 82, 50, 24, "lv");
  text('(b)<span style="margin-left:10px">Fe<sub>2</sub>O<sub>3</sub>/GNS</span>', 700, 67, 24, "lv");
  text('(c)<span style="margin-left:22px">Fe<sub>2</sub>O<sub>3</sub>/CNTs</span>', 82, 530, 24, "lv");
  text('(d)<span style="margin-left:20px">cubic Fe<sub>2</sub>O<sub>3</sub></span>', 696, 548, 24, "lv");
} catch (e) {
  const pre = document.createElement("pre");
  pre.textContent = String(e && e.stack || e);
  fig.appendChild(pre);
}
</script></body></html>
